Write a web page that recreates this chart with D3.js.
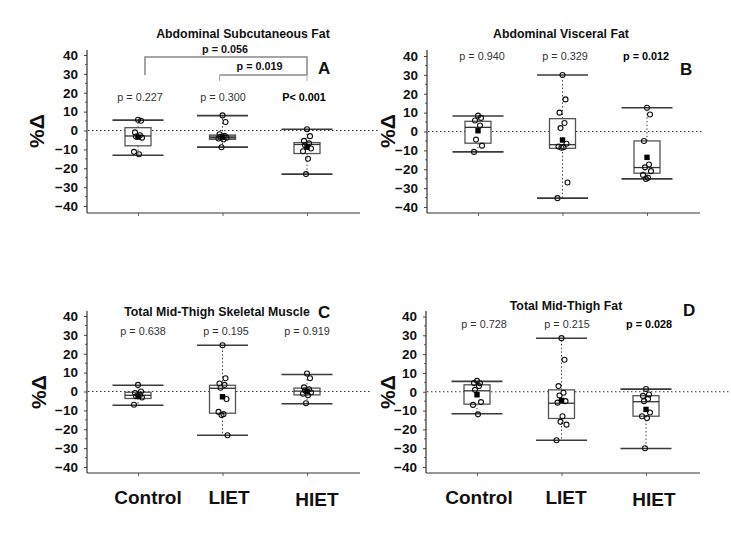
<!DOCTYPE html>
<html><head><meta charset="utf-8">
<script src="https://cdn.jsdelivr.net/npm/d3@7"></script>
<style>body{margin:0;background:#fff} svg{display:block}</style>
</head><body><svg id="c" width="731" height="542"></svg>
<script>
// ---------------- DATA ----------------
const groups = ["Control", "LIET", "HIET"];
const yTicks = [40, 30, 20, 10, 0, -10, -20, -30, -40];
const yLabel = "%Δ";

// Panel A – Abdominal Subcutaneous Fat
const titleA = "Abdominal Subcutaneous Fat";
const pA = ["p = 0.227", "p = 0.300", "P< 0.001"];
const pBoldA = [false, false, true];
const lowA  = [-13.1, -8.8, -23.1];
const q1A   = [-8.1, -4.7, -12.2];
const medA  = [-2.9, -3.6, -7.4];
const q3A   = [1.5, -2.4, -6.4];
const highA = [5.5, 7.9, 0.7];
const meanA = [-3.5, -3.4, -8.8];
const ptsA = [
  [5.7, 5.2, -1.0, -2.5, -3.2, -3.8, -11.3, -12.6],
  [8.0, 4.5, -2.0, -2.8, -3.3, -3.8, -4.2, -4.8, -8.9],
  [0.7, -3.0, -5.5, -6.8, -7.8, -9.5, -11.0, -15.0, -23.1]
];
const bracketTextA = ["p = 0.056", "p = 0.019"];

// Panel B – Abdominal Visceral Fat
const titleB = "Abdominal Visceral Fat";
const pB = ["p = 0.940", "p = 0.329", "p = 0.012"];
const pBoldB = [false, false, true];
const lowB  = [-10.8, -35.3, -25.1];
const q1B   = [-6.2, -8.9, -22.1];
const medB  = [2.2, -7.0, -19.1];
const q3B   = [5.4, 6.8, -5.0];
const highB = [8.2, 29.9, 12.6];
const meanB = [0.4, -4.5, -13.7];
const ptsB = [
  [8.4, 7.2, 5.8, 3.2, -4.3, -7.5, -10.8],
  [29.9, 17.0, 10.0, 4.5, 1.8, -6.5, -8.0, -8.3, -8.6, -27.0, -35.3],
  [12.6, 9.0, -5.0, -17.5, -19.0, -21.0, -23.0, -24.5, -25.1]
];

// Panel C – Total Mid-Thigh Skeletal Muscle
const titleC = "Total Mid-Thigh Skeletal Muscle";
const pC = ["p = 0.638", "p = 0.195", "p = 0.919"];
const pBoldC = [false, false, false];
const lowC  = [-7.3, -23.2, -6.5];
const q1C   = [-3.7, -11.5, -1.8];
const medC  = [-2.0, 1.7, 0.2];
const q3C   = [-0.4, 3.3, 1.8];
const highC = [3.3, 24.5, 9.0];
const meanC = [-2.5, -2.8, 0.0];
const ptsC = [
  [3.5, 0.0, -0.8, -1.8, -2.5, -3.2, -7.0],
  [24.5, 7.0, 4.2, 3.5, 2.0, -4.0, -10.8, -12.0, -12.5, -23.2],
  [9.5, 7.0, 2.2, 1.2, 0.5, -0.5, -1.2, -2.0, -6.2]
];

// Panel D – Total Mid-Thigh Fat
const titleD = "Total Mid-Thigh Fat";
const pD = ["p = 0.728", "p = 0.215", "p = 0.028"];
const pBoldD = [false, false, true];
const lowD  = [-11.7, -25.8, -30.2];
const q1D   = [-6.6, -14.2, -13.0];
const medD  = [0.5, -6.1, -5.3];
const q3D   = [3.7, 1.0, -2.1];
const highD = [5.5, 28.4, 1.4];
const meanD = [-1.6, -4.6, -9.4];
const ptsD = [
  [5.8, 4.5, 4.6, 3.0, 1.0, -5.5, -7.0, -12.0],
  [28.5, 17.0, 3.0, -0.5, -2.0, -5.0, -5.8, -13.0, -16.0, -17.5, -25.8],
  [1.5, -1.5, -2.2, -3.8, -5.0, -11.0, -13.0, -14.0, -30.0]
];

// ---------------- LAYOUT ----------------
const FONT = "'Liberation Sans', Arial, Helvetica, sans-serif";
const panels = [
  { letter: "A", title: titleA, p: pA, pBold: pBoldA, low: lowA, q1: q1A, med: medA, q3: q3A, high: highA, mean: meanA, pts: ptsA,
    x0: 87, x1: 360, yTop: 50, yBot: 213, y40: 55, yM40: 206, ref: [88, 380],
    titleX: 243, titleY: 38, letterX: 318, letterY: 74, pY: 101, pX: [140, 223, 304],
    ylX: 36, ylY: 131, boxFill: ["#fff", "#8a8a8a", "#fff"], catLabels: false },
  { letter: "B", title: titleB, p: pB, pBold: pBoldB, low: lowB, q1: q1B, med: medB, q3: q3B, high: highB, mean: meanB, pts: ptsB,
    x0: 427, x1: 700, yTop: 50, yBot: 213, y40: 56, yM40: 207, ref: [428, 703],
    titleX: 561, titleY: 38, letterX: 680, letterY: 75, pY: 59.5, pX: [482, 565, 646],
    ylX: 387, ylY: 131, boxFill: ["#fff", "#fff", "#fff"], catLabels: false },
  { letter: "C", title: titleC, p: pC, pBold: pBoldC, low: lowC, q1: q1C, med: medC, q3: q3C, high: highC, mean: meanC, pts: ptsC,
    x0: 87, x1: 360, yTop: 311, yBot: 473, y40: 316, yM40: 467, ref: [88, 370],
    titleX: 217, titleY: 316, letterX: 318, letterY: 318, pY: 334.5, pX: [143, 226, 307],
    ylX: 38, ylY: 392, boxFill: ["#fff", "#fff", "#fff"], catLabels: true, labelX: [148, 229, 317] },
  { letter: "D", title: titleD, p: pD, pBold: pBoldD, low: lowD, q1: q1D, med: medD, q3: q3D, high: highD, mean: meanD, pts: ptsD,
    x0: 426, x1: 700, yTop: 311, yBot: 473, y40: 316.5, yM40: 467, ref: [427, 731],
    titleX: 566, titleY: 310, letterX: 683, letterY: 316, pY: 327.5, pX: [484, 567, 649],
    ylX: 387, ylY: 392, boxFill: ["#fff", "#fff", "#fff"], catLabels: true, labelX: [479, 566, 654] }
];
const jitter = [0, 3, -3, 2, -2, 4, -4, 1, -1, 5, -5];

const svg = d3.select("#c");

panels.forEach(P => {
  const g = svg.append("g");
  const y = d3.scaleLinear().domain([-40, 40]).range([P.yM40, P.y40]);
  const x = d3.scalePoint().domain(groups).range([P.x0 + 51, P.x0 + 220]);

  // zero reference line
  g.append("line").attr("x1", P.ref[0]).attr("x2", P.ref[1])
    .attr("y1", y(0)).attr("y2", y(0))
    .attr("stroke", "#333").attr("stroke-width", 1).attr("stroke-dasharray", "1.5,2.5");

  // y axis
  const yAxis = d3.axisLeft(y).tickValues(yTicks).tickSize(3).tickPadding(6).tickSizeOuter(0).tickFormat(d3.format("d"));
  const ya = g.append("g").attr("transform", `translate(${P.x0},0)`).call(yAxis);
  ya.select(".domain").remove();
  ya.selectAll(".tick line").attr("stroke", "#444");
  ya.selectAll(".tick text").attr("font-family", FONT).attr("font-size", 13.5).attr("font-weight", "bold").attr("fill", "#111");
  const minor = d3.range(-35, 40, 10);
  g.selectAll(".minor").data(minor).join("line")
    .attr("x1", P.x0 - 2).attr("x2", P.x0).attr("y1", d => y(d)).attr("y2", d => y(d))
    .attr("stroke", "#666");
  g.append("line").attr("x1", P.x0).attr("x2", P.x0).attr("y1", P.yTop).attr("y2", P.yBot)
    .attr("stroke", "#333").attr("stroke-width", 1.2);

  // x axis
  const xa = g.append("g").attr("transform", `translate(0,${P.yBot})`)
    .call(d3.axisBottom(x).tickSize(3).tickFormat(""));
  xa.select(".domain").remove();
  xa.selectAll(".tick line").attr("stroke", "#666");
  g.append("line").attr("x1", P.x0).attr("x2", P.x1).attr("y1", P.yBot).attr("y2", P.yBot)
    .attr("stroke", "#333").attr("stroke-width", 1.2);

  // y label
  g.append("text").attr("transform", `translate(${P.ylX},${P.ylY}) rotate(-90)`)
    .attr("text-anchor", "middle").attr("dominant-baseline", "central")
    .attr("font-family", FONT).attr("font-size", 21).attr("font-weight", "bold").attr("fill", "#111")
    .text(yLabel);

  // title + letter
  g.append("text").attr("x", P.titleX).attr("y", P.titleY).attr("text-anchor", "middle")
    .attr("font-family", FONT).attr("font-size", 12.3).attr("font-weight", "bold").attr("fill", "#111")
    .text(P.title);
  g.append("text").attr("x", P.letterX).attr("y", P.letterY)
    .attr("font-family", FONT).attr("font-size", 17).attr("font-weight", "bold").attr("fill", "#111")
    .text(P.letter);

  // p values
  g.selectAll(".pv").data(P.p).join("text")
    .attr("x", (d, i) => P.pX[i]).attr("y", P.pY).attr("text-anchor", "middle")
    .attr("font-family", FONT).attr("font-size", 10.8)
    .attr("font-weight", (d, i) => P.pBold[i] ? "bold" : "normal")
    .attr("fill", (d, i) => P.pBold[i] ? "#000" : "#333")
    .text(d => d);

  // boxes
  groups.forEach((grp, i) => {
    const cx = x(grp);
    const bw = 26, cw = 51;
    // whiskers (dotted)
    g.append("line").attr("x1", cx).attr("x2", cx).attr("y1", y(P.q3[i])).attr("y2", y(P.high[i]))
      .attr("stroke", "#444").attr("stroke-dasharray", "1.5,2.2");
    g.append("line").attr("x1", cx).attr("x2", cx).attr("y1", y(P.q1[i])).attr("y2", y(P.low[i]))
      .attr("stroke", "#444").attr("stroke-dasharray", "1.5,2.2");
    // caps
    [P.high[i], P.low[i]].forEach(v => {
      g.append("line").attr("x1", cx - cw / 2).attr("x2", cx + cw / 2).attr("y1", y(v)).attr("y2", y(v))
        .attr("stroke", "#3a3a3a").attr("stroke-width", 1.6);
    });
    // box
    g.append("rect").attr("x", cx - bw / 2).attr("width", bw)
      .attr("y", y(P.q3[i])).attr("height", y(P.q1[i]) - y(P.q3[i]))
      .attr("fill", P.boxFill[i]).attr("stroke", "#555").attr("stroke-width", 1.3);
    g.append("line").attr("x1", cx - bw / 2).attr("x2", cx + bw / 2).attr("y1", y(P.med[i])).attr("y2", y(P.med[i]))
      .attr("stroke", "#333").attr("stroke-width", 1.3);
    // points
    g.selectAll(null).data(P.pts[i]).join("circle")
      .attr("cx", (d, j) => cx + jitter[j % jitter.length]).attr("cy", d => y(d)).attr("r", 2.5)
      .attr("fill", "none").attr("stroke", "#111").attr("stroke-width", 1.1);
    // mean
    g.append("rect").attr("x", cx - 2.7).attr("y", y(P.mean[i]) - 2.7).attr("width", 5.4).attr("height", 5.4)
      .attr("fill", "#000");
  });

  // category labels
  if (P.catLabels) {
    g.selectAll(".cat").data(groups).join("text")
      .attr("x", (d, i) => P.labelX[i]).attr("y", (d, i) => i === 2 ? 505.5 : 503.5)
      .attr("text-anchor", "middle")
      .attr("font-family", FONT).attr("font-size", 19).attr("font-weight", "bold").attr("fill", "#111")
      .text(d => d);
  }

  // significance brackets (panel A)
  if (P.letter === "A") {
    const bc = "#888";
    const xl1 = x("Control") + 7, xr = x("HIET"), xl2 = x("LIET") - 3;
    const yb1 = 57, yb2 = 75, yb3 = 81;
    const path1 = d3.path();
    path1.moveTo(xl1, yb2); path1.lineTo(xl1, yb1); path1.lineTo(xr, yb1); path1.lineTo(xr, yb2);
    g.append("path").attr("d", path1.toString()).attr("fill", "none").attr("stroke", bc).attr("stroke-width", 1.5);
    g.append("line").attr("x1", xl2).attr("x2", xr).attr("y1", yb2).attr("y2", yb2).attr("stroke", bc).attr("stroke-width", 1.5);
    g.append("line").attr("x1", xl2).attr("x2", xl2).attr("y1", yb2).attr("y2", yb3).attr("stroke", "#aaa").attr("stroke-width", 1);
    g.append("line").attr("x1", xr).attr("x2", xr).attr("y1", yb2).attr("y2", yb3).attr("stroke", "#aaa").attr("stroke-width", 1);
    g.append("text").attr("x", 225).attr("y", 52.5).attr("text-anchor", "middle")
      .attr("font-family", FONT).attr("font-size", 10.8).attr("font-weight", "bold").attr("fill", "#111")
      .text(bracketTextA[0]);
    g.append("text").attr("x", 259.5).attr("y", 69.5).attr("text-anchor", "middle")
      .attr("font-family", FONT).attr("font-size", 10.8).attr("font-weight", "bold").attr("fill", "#111")
      .text(bracketTextA[1]);
  }
});
</script>
</body></html>
